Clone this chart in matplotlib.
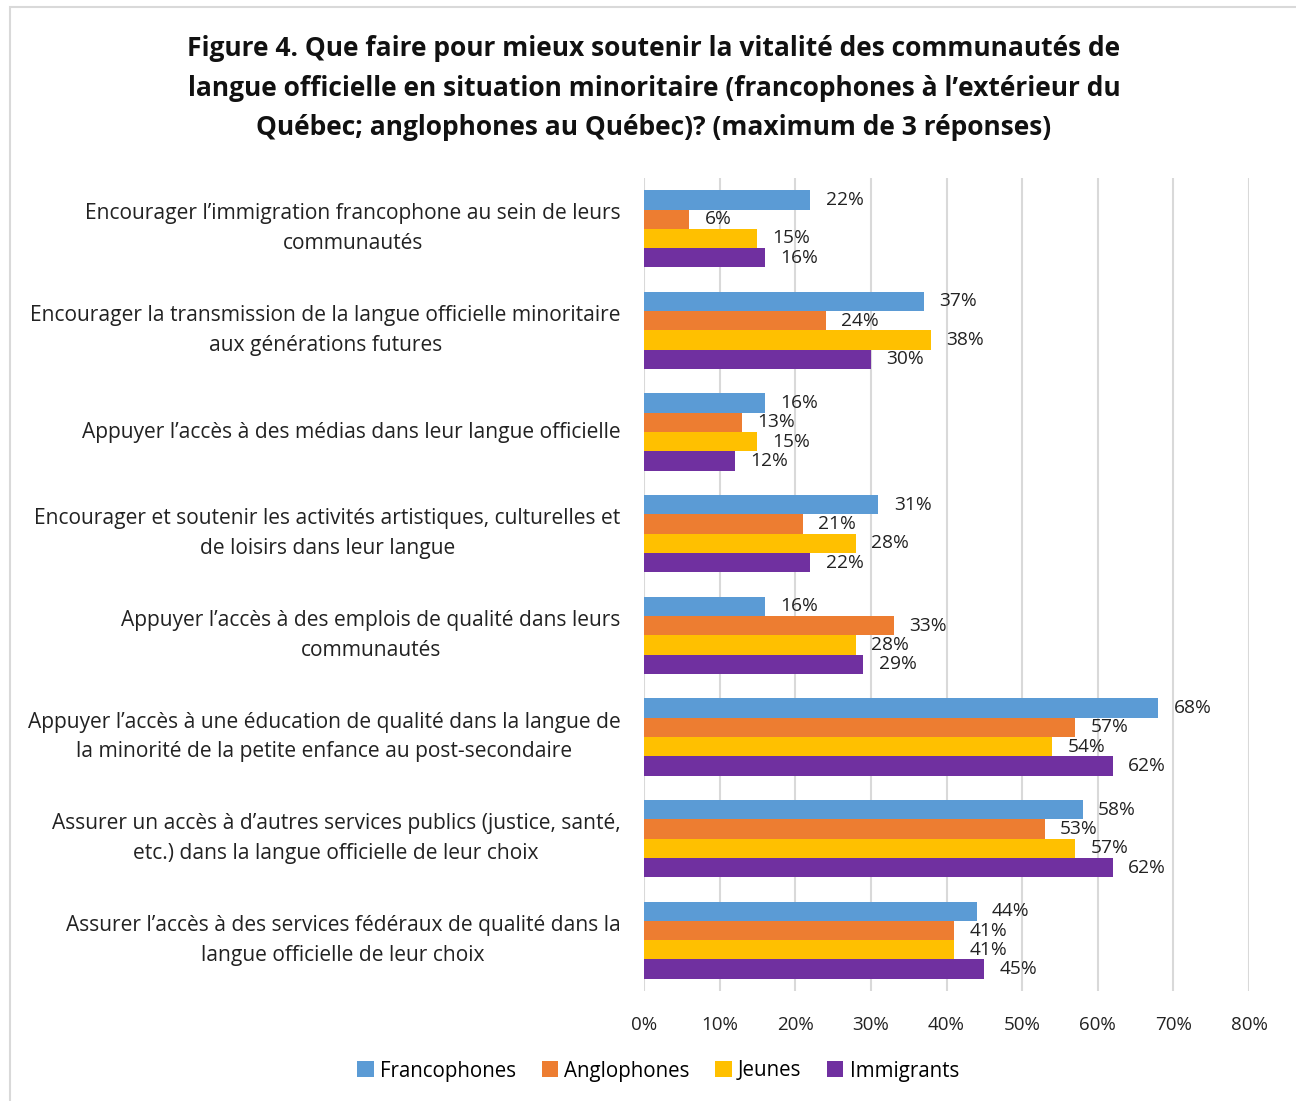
import numpy as np
import matplotlib
matplotlib.use("Agg")
import matplotlib.pyplot as plt
from matplotlib.patches import Rectangle

plt.rcParams['font.family'] = ['Open Sans', 'DejaVu Sans']

categories = [
    "Encourager l’immigration francophone au sein de leurs\ncommunautés",
    "Encourager la transmission de la langue officielle minoritaire\naux générations futures",
    "Appuyer l’accès à des médias dans leur langue officielle",
    "Encourager et soutenir les activités artistiques, culturelles et\nde loisirs dans leur langue",
    "Appuyer l’accès à des emplois de qualité dans leurs\ncommunautés",
    "Appuyer l’accès à une éducation de qualité dans la langue de\nla minorité de la petite enfance au post-secondaire",
    "Assurer un accès à d’autres services publics (justice, santé,\netc.) dans la langue officielle de leur choix",
    "Assurer l’accès à des services fédéraux de qualité dans la\nlangue officielle de leur choix",
]
francophones = [22, 37, 16, 31, 16, 68, 58, 44]
anglophones = [6, 24, 13, 21, 33, 57, 53, 41]
jeunes = [15, 38, 15, 28, 28, 54, 57, 41]
immigrants = [16, 30, 12, 22, 29, 62, 62, 45]
series_names = ["Francophones", "Anglophones", "Jeunes", "Immigrants"]
xticks = [0, 10, 20, 30, 40, 50, 60, 70, 80]

colors = ["#5B9BD5", "#ED7D31", "#FFC000", "#7030A0"]

fig = plt.figure(figsize=(12.96, 11.01), dpi=100)
ax = fig.add_axes([644/1296, 1 - 991/1101, 605/1296, (991-178)/1101])

# light frame round the chart area
fig.patches.append(Rectangle((10/1296, -0.01), 1.1, 1 - 7/1101 + 0.01,
                             transform=fig.transFigure, fill=False,
                             edgecolor="#d9d9d9", linewidth=1.5))

y = np.arange(len(categories))
h = 0.19
all_series = [francophones, anglophones, jeunes, immigrants]
for k, (vals, name, c) in enumerate(zip(all_series, series_names, colors)):
    pos = y + (k - 1.5) * h
    ax.barh(pos, vals, height=h, color=c, label=name, zorder=3)
    for p, v in zip(pos, vals):
        ax.annotate(f"{v}%", (v, p), xytext=(11, 0), textcoords="offset points",
                    va="center", ha="left", fontsize=13.8, color="#222222")

ax.set_ylim(len(categories) - 0.5, -0.5)
ax.set_xlim(0, 80)
ax.set_xticks(xticks)
ax.set_xticklabels([f"{t}%" for t in xticks], fontsize=13.5, color="#222222")
ax.set_yticks(y)
ax.set_yticklabels(categories, fontsize=15.1, color="#222222", multialignment="center")
for t in ax.get_yticklabels():
    t.set_linespacing(1.55)
    t.set_va("center")
ax.tick_params(axis="both", length=0)
ax.tick_params(axis="y", pad=17)
ax.tick_params(axis="x", pad=18)
ax.grid(axis="x", color="#d9d9d9", linewidth=1.5, zorder=0)
for s in ax.spines.values():
    s.set_visible(False)

fig.text(654/1296, 1 - 88/1101,
         "Figure 4. Que faire pour mieux soutenir la vitalité des communautés de\n"
         "langue officielle en situation minoritaire (francophones à l’extérieur du\n"
         "Québec; anglophones au Québec)? (maximum de 3 réponses)",
         ha="center", va="center", fontsize=19, fontweight="bold",
         linespacing=1.58, color="#111111")

fig.legend(loc="center", bbox_to_anchor=(658/1296, 1 - 1071/1101), ncol=4,
           frameon=False, fontsize=14.8, handlelength=0.8, handleheight=0.8,
           handletextpad=0.3, columnspacing=1.25)

fig.savefig("out.png", dpi=100)
